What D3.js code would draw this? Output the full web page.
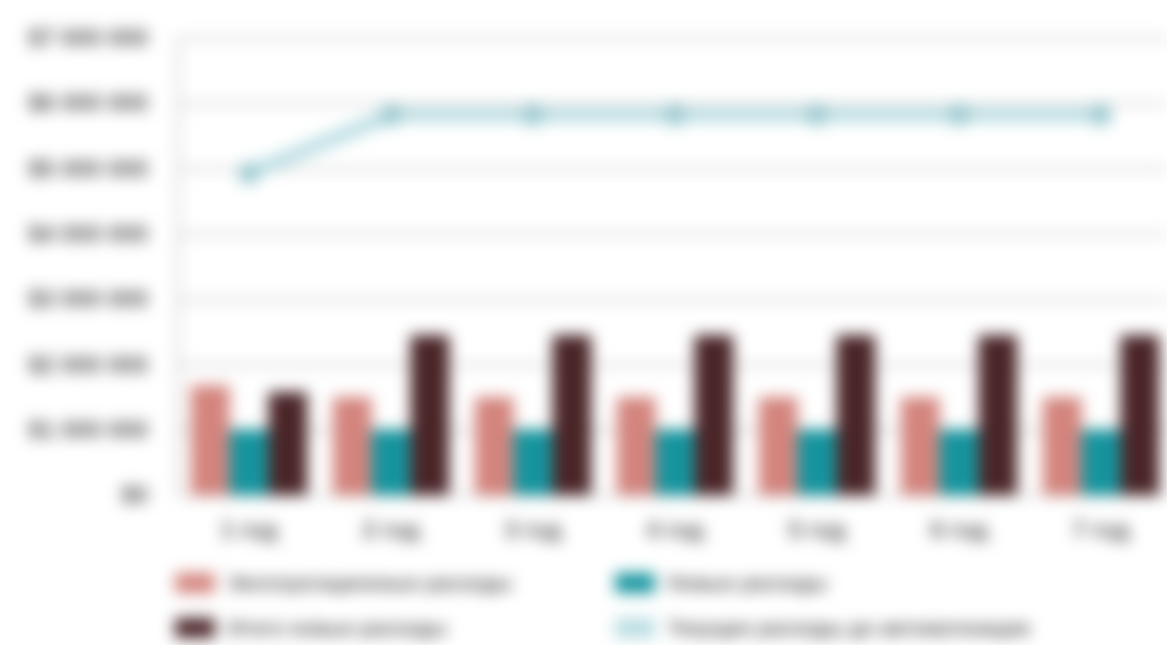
<!DOCTYPE html>
<html>
<head>
<meta charset="utf-8">
<script src="https://cdn.jsdelivr.net/npm/d3@7"></script>
<style>
  html, body { margin: 0; padding: 0; background: #ffffff; }
  svg { display: block; filter: blur(7.5px); }
  text { font-family: "Liberation Sans", Arial, sans-serif; fill: #595959; font-weight: bold; }
</style>
</head>
<body>
<svg id="chart" width="1167" height="645"></svg>
<script>
// Categories (years) and series values, in dollars
const years = ["1 год", "2 год", "3 год", "4 год", "5 год", "6 год", "7 год"];
const operatingCosts = [1680000, 1500000, 1500000, 1500000, 1500000, 1500000, 1500000];
const newCosts       = [1000000, 1000000, 1000000, 1000000, 1000000, 1000000, 1000000];
const totalNew       = [1580000, 2450000, 2450000, 2450000, 2450000, 2450000, 2450000];
const currentCosts   = [4930000, 5820000, 5820000, 5820000, 5820000, 5820000, 5820000];
const yTicks = [0, 1000000, 2000000, 3000000, 4000000, 5000000, 6000000, 7000000];
const seriesNames = ["Эксплуатационные расходы", "Новые расходы", "Итого новые расходы", "Текущие расходы до автоматизации"];
const colors = ["#d3847d", "#15949e", "#4a2528", "#b9dde2"];

const svg = d3.select("#chart");
const plotLeft = 178, plotRight = 1172, plotTop = 38, plotBottom = 495;

const y = d3.scaleLinear().domain([0, 7000000]).range([plotBottom, plotTop]);
const x0 = d3.scaleBand().domain(years).range([plotLeft, plotRight]).paddingInner(0.18).paddingOuter(0.09);
const barSeries = [operatingCosts, newCosts, totalNew];
const x1 = d3.scaleBand().domain([0, 1, 2]).range([0, x0.bandwidth()]).padding(0);

const fmt = v => "$" + d3.format(",")(v).replace(/,/g, " ");

// Horizontal gridlines
svg.append("g")
  .attr("transform", `translate(${plotLeft},0)`)
  .call(d3.axisLeft(y).tickValues(yTicks).tickSize(-(1167 - plotLeft)).tickFormat(""))
  .call(g => g.select(".domain").remove())
  .call(g => g.selectAll("line").attr("stroke", "#cccccc").attr("stroke-width", 3));

// Vertical axis line
svg.append("line").attr("x1", plotLeft).attr("x2", plotLeft).attr("y1", plotTop).attr("y2", plotBottom)
  .attr("stroke", "#cccccc").attr("stroke-width", 3);

// Y tick labels
svg.append("g")
  .attr("transform", `translate(${plotLeft},0)`)
  .call(d3.axisLeft(y).tickValues(yTicks).tickSize(0).tickPadding(30).tickFormat(fmt))
  .call(g => g.select(".domain").remove())
  .call(g => g.selectAll("text").attr("font-size", 24).style("fill", "#505050"));

// X category labels
svg.append("g")
  .attr("transform", `translate(0,${plotBottom})`)
  .call(d3.axisBottom(x0).tickSize(0).tickPadding(27))
  .call(g => g.select(".domain").remove())
  .call(g => g.selectAll("text").attr("font-size", 23).style("fill", "#505050"));

// Grouped bars
const groups = svg.append("g").selectAll("g")
  .data(years).join("g")
  .attr("transform", d => `translate(${x0(d)},0)`);
groups.selectAll("rect")
  .data((d, i) => barSeries.map((s, k) => ({ k, v: s[i] })))
  .join("rect")
  .attr("x", d => x1(d.k))
  .attr("width", x1.bandwidth())
  .attr("y", d => y(d.v))
  .attr("height", d => plotBottom - y(d.v))
  .attr("fill", d => colors[d.k]);

// Line series with markers
const cx = d => x0(d) + x0.bandwidth() / 2;
svg.append("path")
  .datum(years.map((d, i) => [cx(d), y(currentCosts[i])]))
  .attr("fill", "none")
  .attr("stroke", colors[3])
  .attr("stroke-width", 14)
  .attr("stroke-linejoin", "round")
  .attr("d", d3.line());
svg.append("g").selectAll("circle")
  .data(years).join("circle")
  .attr("cx", cx)
  .attr("cy", (d, i) => y(currentCosts[i]))
  .attr("r", 11)
  .attr("fill", "#9ccad1");

// Legend
const legendPos = [[175, 583], [615, 583], [175, 628], [615, 628]];
const legend = svg.append("g").selectAll("g")
  .data(seriesNames).join("g")
  .attr("transform", (d, i) => `translate(${legendPos[i][0]},${legendPos[i][1]})`);
legend.append("rect")
  .attr("x", 0).attr("y", -10).attr("width", 40).attr("height", 20)
  .attr("fill", (d, i) => colors[i]);
legend.append("text")
  .attr("x", 53).attr("y", 0).attr("dy", "0.35em")
  .attr("font-size", 20)
  .style("fill", "#505050")
  .text(d => d);
</script>
</body>
</html>
